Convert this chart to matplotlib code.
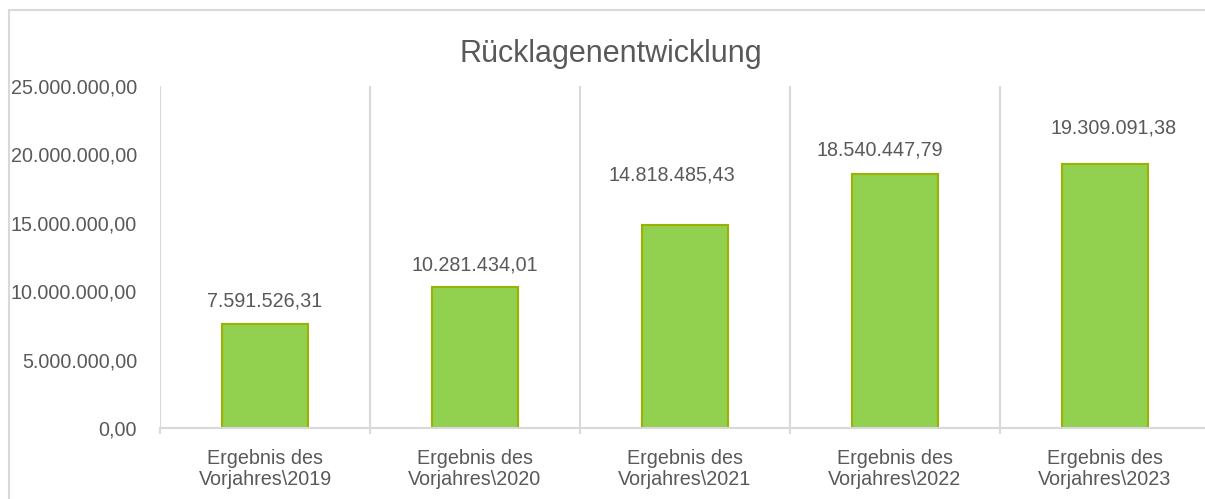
import matplotlib
matplotlib.use("Agg")
import matplotlib.pyplot as plt
from matplotlib.patches import Rectangle
from matplotlib.ticker import FuncFormatter, FixedLocator

categories = ["Ergebnis des\nVorjahres\\2019", "Ergebnis des\nVorjahres\\2020",
              "Ergebnis des\nVorjahres\\2021", "Ergebnis des\nVorjahres\\2022",
              "Ergebnis des\nVorjahres\\2023"]
values = [7591526.31, 10281434.01, 14818485.43, 18540447.79, 19309091.38]
yticks = [0, 5000000, 10000000, 15000000, 20000000, 25000000]
title = "Rücklagenentwicklung"

# label placement offsets in pixels (dx, dy of baseline above bar top)
label_dx = [0, 0, -13, -15, 9]
label_dy = [18, 17, 45, 19, 30]

plt.rcParams['font.family'] = ['Liberation Sans', 'DejaVu Sans']

W, H = 1205, 499
DPI = 100
fig = plt.figure(figsize=(W / DPI, H / DPI), dpi=DPI)
PX = 72 / DPI

def de_fmt(v, pos=None):
    s = f"{v:,.2f}"
    return s.replace(",", "X").replace(".", ",").replace("X", ".")

TXT = "#595959"
GRID = "#D9D9D9"
FS = 14.2

# outer border
fig.patches.append(Rectangle((9 / W, -0.1), 1.2, 1 - 10 / H + 0.1, transform=fig.transFigure,
                             fill=False, edgecolor=GRID, linewidth=1.5, zorder=0))

left, right, top, bottom = 160, 1210, 86, 428
ax = fig.add_axes([left / W, (H - bottom) / H, (right - left) / W, (bottom - top) / H])
x = list(range(len(values)))
ax.bar(x, values, width=0.405, color="#92D050", edgecolor="#9AB300", linewidth=1.5, zorder=3)
ax.set_xlim(-0.5, len(values) - 0.5)
ax.set_ylim(0, 25000000)

for b in [i - 0.5 for i in range(len(values) + 1)]:
    ax.axvline(b, color=GRID, linewidth=1.5, zorder=1)

for spine in ["top", "right", "left"]:
    ax.spines[spine].set_visible(False)
ax.spines["bottom"].set_color(GRID)
ax.spines["bottom"].set_linewidth(1.5)
ax.spines["bottom"].set_zorder(4)

ax.yaxis.set_major_locator(FixedLocator(yticks))
ax.yaxis.set_major_formatter(FuncFormatter(de_fmt))
ax.tick_params(axis="y", length=0, pad=23 * PX, labelsize=FS, labelcolor=TXT)

ax.set_xticks(x)
ax.set_xticklabels(categories, linespacing=1.12)
ax.tick_params(axis="x", which="major", length=0, pad=21 * PX, labelsize=FS, labelcolor=TXT)
ax.set_xticks([i - 0.5 for i in range(len(values) + 1)], minor=True)
ax.tick_params(axis="x", which="minor", length=6 * PX, width=1.5, color=GRID, direction="out")

for i, v in enumerate(values):
    ax.annotate(de_fmt(v), xy=(i, v), xytext=(label_dx[i] * PX, label_dy[i] * PX),
                textcoords="offset points", ha="center", va="baseline",
                fontsize=FS, color=TXT, zorder=5)

fig.text(610.5 / W, 1 - 62 / H, title, ha="center", va="baseline", fontsize=22, color=TXT)

fig.savefig("out.png", dpi=DPI, facecolor="white")
